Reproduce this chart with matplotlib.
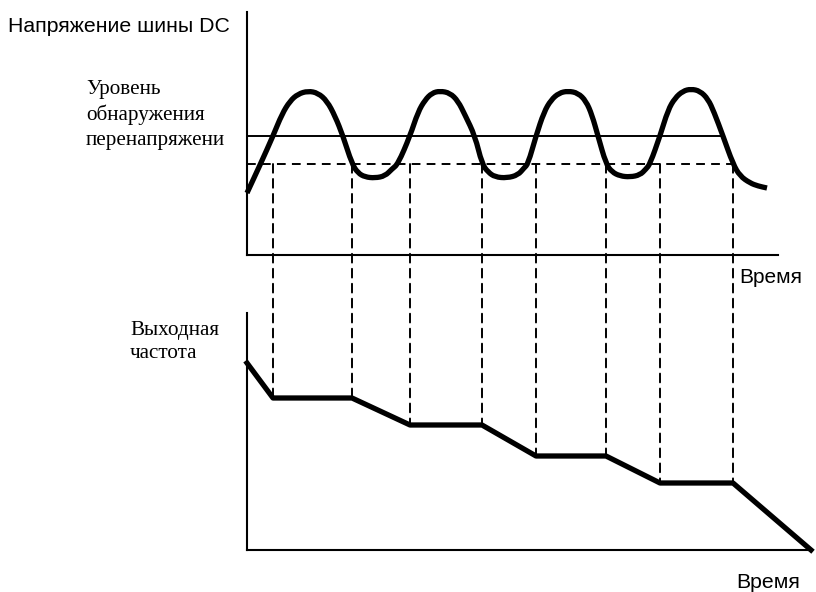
"""DC bus overvoltage stall: bus voltage vs. output frequency (schematic)."""
import matplotlib

matplotlib.use("Agg")
import matplotlib.pyplot as plt
import numpy as np
from matplotlib.patches import ConnectionPatch, PathPatch
from matplotlib.path import Path

# DC bus voltage (arbitrary units), time in arbitrary units
t_bus = [0, 13, 26, 35, 43, 51, 61, 71, 80, 88, 96, 105, 111, 118, 128, 138, 145, 151,
         163, 171, 178, 185, 193, 203, 211, 218, 228, 235, 241, 248, 260, 271, 277, 281,
         289, 297, 304, 312, 321, 331, 339, 345, 351, 359, 365, 373, 383, 393, 399, 403,
         413, 421, 428, 436, 444, 453, 461, 467, 476, 486, 493, 503, 511, 520]
v_bus = [62, 90, 119, 141, 154, 161, 164, 162, 154, 139, 119, 91, 82, 78, 77, 79, 86, 91,
         119, 143, 155, 162, 164, 162, 154, 140, 119, 91, 83, 78, 77, 80, 87, 91,
         119, 143, 155, 162, 164, 162, 154, 140, 119, 91, 83, 79, 78, 80, 86, 91,
         119, 145, 157, 164, 166, 164, 156, 143, 119, 91, 79, 72, 69, 67]

V_DETECT = 119   # overvoltage detection level
V_RELEASE = 91   # release level
T_DETECT_END = 476
T_RELEASE_END = 486

# output frequency (arbitrary units)
t_freq = [0, 26, 105, 163, 235, 289, 359, 413, 486, 564]
f_freq = [187, 152, 152, 125, 125, 94, 94, 67, 67, 0]

# instants where the bus voltage crosses the detect / release levels
t_marks = [26, 105, 163, 235, 289, 359, 413, 486]

W, H = 816, 592
fig = plt.figure(figsize=(W / 100, H / 100), dpi=100)


def box(x0, y_top, x1, y_bot):
    return [x0 / W, 1 - y_bot / H, (x1 - x0) / W, (y_bot - y_top) / H]


def smooth_path(xs, ys):
    # corners rounded with quadratic beziers through the midpoints
    p = np.column_stack([xs, ys]).astype(float)
    mids = (p[:-1] + p[1:]) / 2
    verts = [p[0], mids[0]]
    codes = [Path.MOVETO, Path.LINETO]
    for i in range(1, len(p) - 1):
        verts += [p[i], mids[i]]
        codes += [Path.CURVE3, Path.CURVE3]
    verts.append(p[-1])
    codes.append(Path.LINETO)
    return Path(verts, codes)


ax_v = fig.add_axes(box(247, 12, 816, 255))
ax_f = fig.add_axes(box(247, 313, 816, 550))
for ax, ymax, xend in [(ax_v, 243, 531), (ax_f, 237, 565)]:
    ax.set_xlim(0, 569)
    ax.set_ylim(0, ymax)
    ax.set_xticks([])
    ax.set_yticks([])
    ax.patch.set_visible(False)
    for s in ("top", "right"):
        ax.spines[s].set_visible(False)
    for s in ("left", "bottom"):
        ax.spines[s].set_linewidth(1.5)
    ax.spines["bottom"].set_bounds(0, xend)

dash = (0, (4.5, 3.2))
ax_v.add_patch(PathPatch(smooth_path(t_bus, v_bus), facecolor="none", edgecolor="black",
                         lw=3.8, clip_on=False, capstyle="butt"))
ax_v.plot([0, T_DETECT_END], [V_DETECT, V_DETECT], color="black", lw=1.4)
ax_v.plot([0, T_RELEASE_END], [V_RELEASE, V_RELEASE], color="black", lw=1.4, linestyle=dash)
ax_f.plot(t_freq, f_freq, color="black", lw=3.8, clip_on=False)

for t in t_marks:
    f_at = np.interp(t, t_freq, f_freq)
    con = ConnectionPatch(xyA=(t, V_RELEASE), coordsA=ax_v.transData,
                          xyB=(t, f_at), coordsB=ax_f.transData,
                          color="black", lw=1.4, linestyle=dash)
    fig.add_artist(con)

sans = "Liberation Sans"
serif = "Liberation Serif"


def put(x, y, s, family, size, va="center"):
    fig.text(x / W, 1 - y / H, s, family=family, fontsize=size, va=va, ha="left")


put(8, 27, "Напряжение шины DC", sans, 15.3)
put(86, 94, "Уровень", serif, 15.2, va="baseline")
put(86, 120, "обнаружения", serif, 15.2, va="baseline")
put(86, 145, "перенапряжени", serif, 15.2, va="baseline")
put(130, 335, "Выходная", serif, 15.2, va="baseline")
put(130, 358, "частота", serif, 15.2, va="baseline")
put(739, 278, "Время", sans, 15)
put(736, 583, "Время", sans, 15.3)

fig.savefig("out.png", dpi=100)
